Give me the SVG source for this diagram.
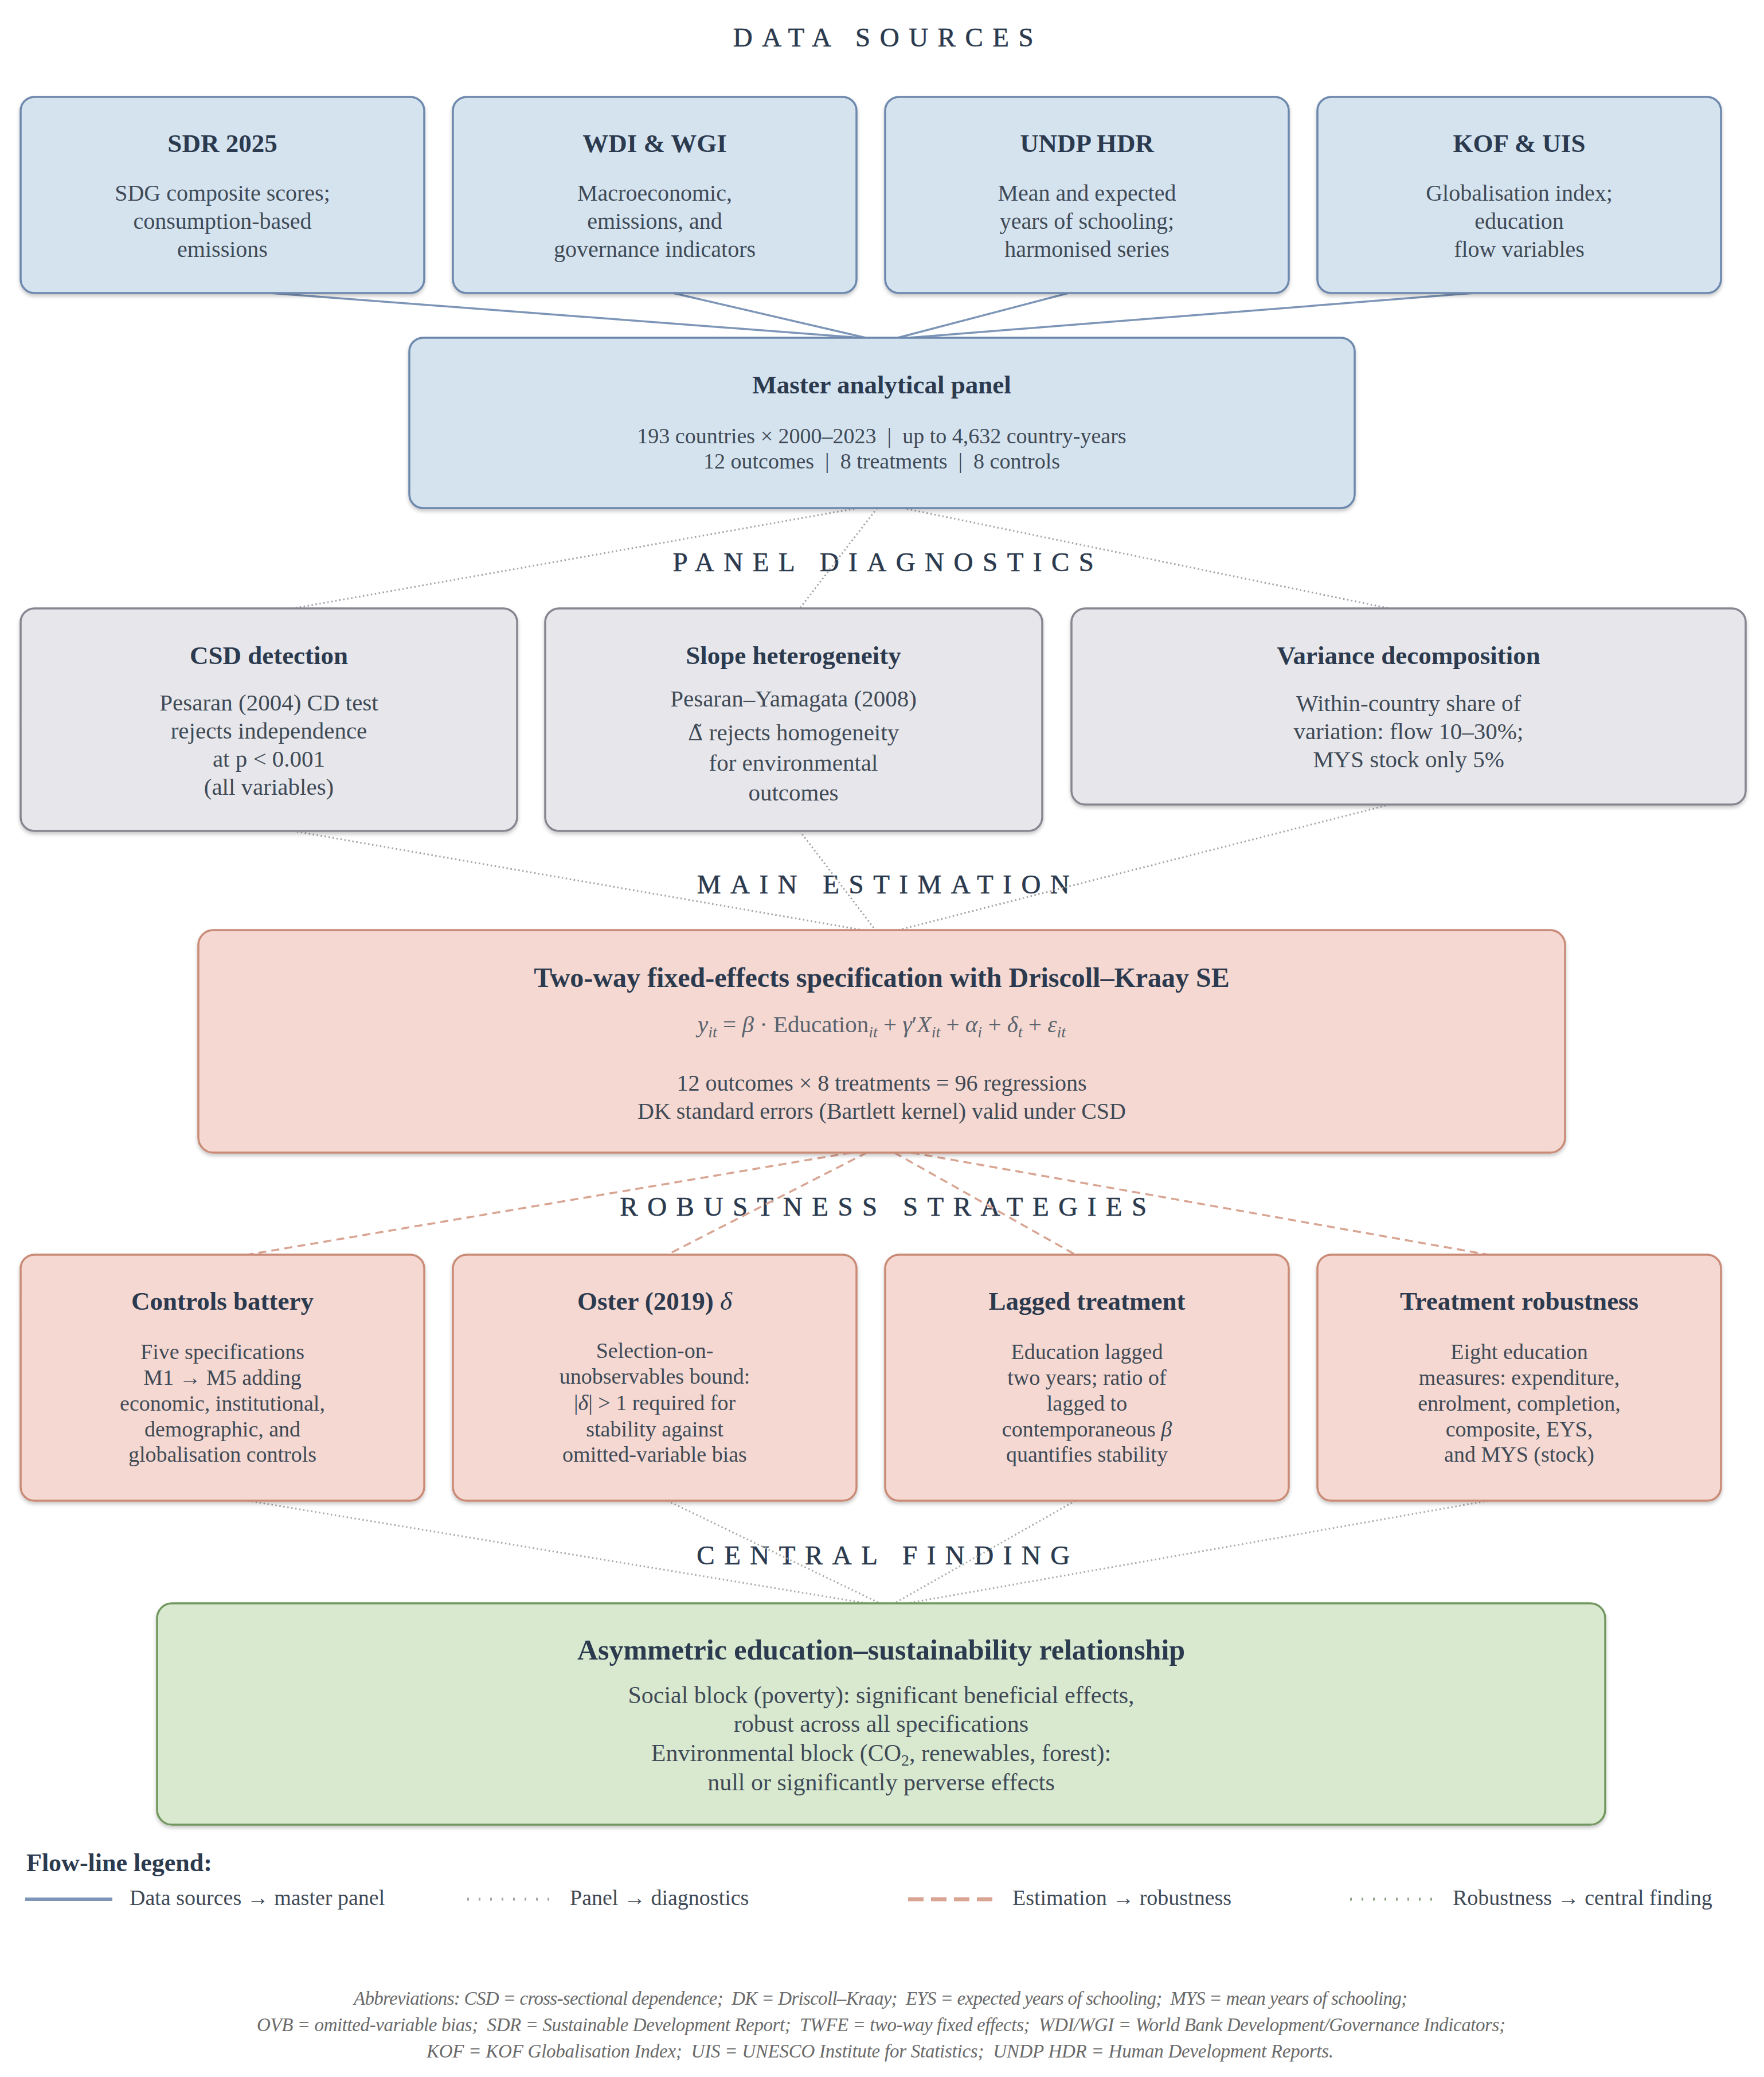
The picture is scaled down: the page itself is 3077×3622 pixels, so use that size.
<svg xmlns="http://www.w3.org/2000/svg" width="3077" height="3622" viewBox="0 0 3077 3622">
<defs>
<filter id="sh" x="-5%" y="-5%" width="110%" height="115%">
<feDropShadow dx="0" dy="4" stdDeviation="3" flood-color="#000" flood-opacity="0.22"/>
</filter>
</defs>
<style>
text{font-family:"Liberation Serif","Times New Roman",serif;}
.hdr{font-size:47px;letter-spacing:16.5px;fill:#2b3a4e;text-anchor:middle;stroke:#2b3a4e;stroke-width:0.6px;}
.ttl{font-size:45px;font-weight:bold;fill:#2b3a4e;text-anchor:middle;}
.bd{font-size:40px;fill:#3f4a56;text-anchor:middle;}
.blue{fill:#d5e3ef;stroke:#6d88ad;stroke-width:3.5;filter:url(#sh);}
.gray{fill:#e7e7eb;stroke:#85868f;stroke-width:3.5;filter:url(#sh);}
.pink{fill:#f4d8d1;stroke:#c98a76;stroke-width:3.5;filter:url(#sh);}
.green{fill:#d8e9d0;stroke:#72975f;stroke-width:3.5;filter:url(#sh);}
.c1{stroke:#7d96b8;stroke-width:3.5;fill:none;}
.c2{stroke:#a3a3aa;stroke-width:3;stroke-dasharray:2.5 4.5;fill:none;}
.c3{stroke:#d9a593;stroke-width:3.5;stroke-dasharray:14 9;fill:none;}
.c4{stroke:#a6ada2;stroke-width:3;stroke-dasharray:2.5 4.5;fill:none;}
.fm{font-size:41px;fill:#5a636d;text-anchor:middle;}
.sub{font-size:28px;font-style:italic;}
.it{font-style:italic;}
.lg{font-size:38px;fill:#3f4a56;}
.ft{font-size:33px;font-style:italic;fill:#6a6a6a;text-anchor:middle;white-space:pre;}
.dv{font-family:"DejaVu Serif",serif;font-size:37px;}
</style>
<rect x="0" y="0" width="3077" height="3622" fill="#ffffff"/>

<!-- section headers -->
<g id="headers">
<text class="hdr" x="1549" y="81">DATA SOURCES</text>
<text class="hdr" x="1549" y="996">PANEL DIAGNOSTICS</text>
<text class="hdr" x="1549" y="1558">MAIN ESTIMATION</text>
<text class="hdr" x="1549" y="2120">ROBUSTNESS STRATEGIES</text>
<text class="hdr" x="1549" y="2728">CENTRAL FINDING</text>
</g>

<!-- connectors -->
<g id="connectors">
<line class="c1" x1="472" y1="511" x2="1500" y2="589"/>
<line class="c1" x1="1174" y1="511" x2="1510" y2="589"/>
<line class="c1" x1="1864" y1="511" x2="1566" y2="589"/>
<line class="c1" x1="2571" y1="511" x2="1585" y2="589"/>

<line class="c2" x1="1497" y1="886" x2="511" y2="1061"/>
<line class="c2" x1="1530" y1="886" x2="1395" y2="1061"/>
<line class="c2" x1="1575" y1="886" x2="2424" y2="1061"/>

<line class="c2" x1="511" y1="1449" x2="1505" y2="1622"/>
<line class="c2" x1="1395" y1="1449" x2="1527" y2="1622"/>
<line class="c2" x1="2424" y1="1403" x2="1566" y2="1622"/>

<line class="c3" x1="1485" y1="2010" x2="432" y2="2188"/>
<line class="c3" x1="1512" y1="2010" x2="1164" y2="2188"/>
<line class="c3" x1="1560" y1="2010" x2="1876" y2="2188"/>
<line class="c3" x1="1590" y1="2010" x2="2596" y2="2188"/>

<line class="c4" x1="432" y1="2617" x2="1512" y2="2796"/>
<line class="c4" x1="1164" y1="2617" x2="1535" y2="2796"/>
<line class="c4" x1="1876" y1="2617" x2="1560" y2="2796"/>
<line class="c4" x1="2596" y1="2617" x2="1582" y2="2796"/>
</g>

<!-- data sources -->
<g id="sdr2025">
<rect class="blue" x="36" y="169" width="704" height="342" rx="24"/>
<text class="ttl" x="388" y="265">SDR 2025</text>
<text class="bd" x="388" y="350">SDG composite scores;</text>
<text class="bd" x="388" y="399">consumption-based</text>
<text class="bd" x="388" y="448">emissions</text>
</g>
<g id="wdi-wgi">
<rect class="blue" x="790" y="169" width="704" height="342" rx="24"/>
<text class="ttl" x="1142" y="265">WDI &amp; WGI</text>
<text class="bd" x="1142" y="350">Macroeconomic,</text>
<text class="bd" x="1142" y="399">emissions, and</text>
<text class="bd" x="1142" y="448">governance indicators</text>
</g>
<g id="undp-hdr">
<rect class="blue" x="1544" y="169" width="704" height="342" rx="24"/>
<text class="ttl" x="1896" y="265">UNDP HDR</text>
<text class="bd" x="1896" y="350">Mean and expected</text>
<text class="bd" x="1896" y="399">years of schooling;</text>
<text class="bd" x="1896" y="448">harmonised series</text>
</g>
<g id="kof-uis">
<rect class="blue" x="2298" y="169" width="704" height="342" rx="24"/>
<text class="ttl" x="2650" y="265">KOF &amp; UIS</text>
<text class="bd" x="2650" y="350">Globalisation index;</text>
<text class="bd" x="2650" y="399">education</text>
<text class="bd" x="2650" y="448">flow variables</text>
</g>

<!-- master panel -->
<g id="master-panel">
<rect class="blue" x="714" y="589" width="1649" height="297" rx="24"/>
<text class="ttl" x="1538" y="686">Master analytical panel</text>
<text class="bd" x="1538" y="773" style="font-size:38px;white-space:pre">193 countries × 2000–2023  |  up to 4,632 country-years</text>
<text class="bd" x="1538" y="817" style="font-size:38px;white-space:pre">12 outcomes  |  8 treatments  |  8 controls</text>
</g>

<!-- diagnostics -->
<g id="csd-detection">
<rect class="gray" x="36" y="1061" width="866" height="388" rx="24"/>
<text class="ttl" x="469" y="1158">CSD detection</text>
<text class="bd" x="469" y="1239" style="font-size:41px">Pesaran (2004) CD test</text>
<text class="bd" x="469" y="1288" style="font-size:41px">rejects independence</text>
<text class="bd" x="469" y="1337" style="font-size:41px">at p &lt; 0.001</text>
<text class="bd" x="469" y="1386" style="font-size:41px">(all variables)</text>
</g>
<g id="slope-heterogeneity">
<rect class="gray" x="951" y="1061" width="867" height="388" rx="24"/>
<text class="ttl" x="1384" y="1158">Slope heterogeneity</text>
<text class="bd" x="1384" y="1232" style="font-size:41px">Pesaran–Yamagata (2008)</text>
<text class="bd" x="1384" y="1291" style="font-size:41px"><tspan class="dv">Δ̃</tspan> rejects homogeneity</text>
<text class="bd" x="1384" y="1344" style="font-size:41px">for environmental</text>
<text class="bd" x="1384" y="1396" style="font-size:41px">outcomes</text>
</g>
<g id="variance-decomposition">
<rect class="gray" x="1869" y="1061" width="1176" height="342" rx="24"/>
<text class="ttl" x="2457" y="1158">Variance decomposition</text>
<text class="bd" x="2457" y="1240" style="font-size:41px">Within-country share of</text>
<text class="bd" x="2457" y="1289" style="font-size:41px">variation: flow 10–30%;</text>
<text class="bd" x="2457" y="1338" style="font-size:41px">MYS stock only 5%</text>
</g>

<!-- main estimation -->
<g id="twfe-estimation">
<rect class="pink" x="346" y="1622" width="2384" height="388" rx="26"/>
<text class="ttl" x="1538" y="1721" style="font-size:48px">Two-way fixed-effects specification with Driscoll–Kraay SE</text>
<text class="fm" x="1538" y="1800"><tspan class="it">y</tspan><tspan class="sub" dy="9">it</tspan><tspan dy="-9"> = </tspan><tspan class="it">β</tspan><tspan> · Education</tspan><tspan class="sub" dy="9">it</tspan><tspan dy="-9"> + </tspan><tspan class="it">γ</tspan><tspan>′</tspan><tspan class="it">X</tspan><tspan class="sub" dy="9">it</tspan><tspan dy="-9"> + </tspan><tspan class="it">α</tspan><tspan class="sub" dy="9">i</tspan><tspan dy="-9"> + </tspan><tspan class="it">δ</tspan><tspan class="sub" dy="9">t</tspan><tspan dy="-9"> + </tspan><tspan class="it">ε</tspan><tspan class="sub" dy="9">it</tspan></text>
<text class="bd" x="1538" y="1902">12 outcomes × 8 treatments = 96 regressions</text>
<text class="bd" x="1538" y="1951">DK standard errors (Bartlett kernel) valid under CSD</text>
</g>

<!-- robustness -->
<g id="controls-battery">
<rect class="pink" x="36" y="2188" width="704" height="429" rx="24"/>
<text class="ttl" x="388" y="2284">Controls battery</text>
<text class="bd" x="388" y="2370" style="font-size:38px">Five specifications</text>
<text class="bd" x="388" y="2415" style="font-size:38px">M1 → M5 adding</text>
<text class="bd" x="388" y="2460" style="font-size:38px">economic, institutional,</text>
<text class="bd" x="388" y="2505" style="font-size:38px">demographic, and</text>
<text class="bd" x="388" y="2549" style="font-size:38px">globalisation controls</text>
</g>
<g id="oster-delta">
<rect class="pink" x="790" y="2188" width="704" height="429" rx="24"/>
<text class="ttl" x="1142" y="2284">Oster (2019) <tspan font-style="italic" font-weight="normal">δ</tspan></text>
<text class="bd" x="1142" y="2368" style="font-size:38px">Selection-on-</text>
<text class="bd" x="1142" y="2413" style="font-size:38px">unobservables bound:</text>
<text class="bd" x="1142" y="2459" style="font-size:38px">|<tspan class="it">δ</tspan>| &gt; 1 required for</text>
<text class="bd" x="1142" y="2505" style="font-size:38px">stability against</text>
<text class="bd" x="1142" y="2549" style="font-size:38px">omitted-variable bias</text>
</g>
<g id="lagged-treatment">
<rect class="pink" x="1544" y="2188" width="704" height="429" rx="24"/>
<text class="ttl" x="1896" y="2284">Lagged treatment</text>
<text class="bd" x="1896" y="2370" style="font-size:38px">Education lagged</text>
<text class="bd" x="1896" y="2415" style="font-size:38px">two years; ratio of</text>
<text class="bd" x="1896" y="2460" style="font-size:38px">lagged to</text>
<text class="bd" x="1896" y="2505" style="font-size:38px">contemporaneous <tspan class="it">β</tspan></text>
<text class="bd" x="1896" y="2549" style="font-size:38px">quantifies stability</text>
</g>
<g id="treatment-robustness">
<rect class="pink" x="2298" y="2188" width="704" height="429" rx="24"/>
<text class="ttl" x="2650" y="2284">Treatment robustness</text>
<text class="bd" x="2650" y="2370" style="font-size:38px">Eight education</text>
<text class="bd" x="2650" y="2415" style="font-size:38px">measures: expenditure,</text>
<text class="bd" x="2650" y="2460" style="font-size:38px">enrolment, completion,</text>
<text class="bd" x="2650" y="2505" style="font-size:38px">composite, EYS,</text>
<text class="bd" x="2650" y="2549" style="font-size:38px">and MYS (stock)</text>
</g>

<!-- central finding -->
<g id="central-finding">
<rect class="green" x="274" y="2796" width="2526" height="386" rx="26"/>
<text class="ttl" x="1537" y="2894" style="font-size:50px">Asymmetric education–sustainability relationship</text>
<text class="bd" x="1537" y="2970" style="font-size:42px">Social block (poverty): significant beneficial effects,</text>
<text class="bd" x="1537" y="3020" style="font-size:42px">robust across all specifications</text>
<text class="bd" x="1537" y="3071" style="font-size:42px">Environmental block (CO<tspan font-size="28" dy="8">2</tspan><tspan dy="-8">, renewables, forest):</tspan></text>
<text class="bd" x="1537" y="3122" style="font-size:42px">null or significantly perverse effects</text>
</g>

<!-- legend -->
<g id="legend">
<text x="46" y="3263" style="font-size:44px;font-weight:bold;fill:#2b3a4e">Flow-line legend:</text>
<line x1="44" y1="3312" x2="196" y2="3312" stroke="#7d96b8" stroke-width="6"/>
<text class="lg" x="226" y="3322">Data sources → master panel</text>
<line x1="815" y1="3312" x2="960" y2="3312" stroke="#a3a3aa" stroke-width="5" stroke-dasharray="3 17"/>
<text class="lg" x="994" y="3322">Panel → diagnostics</text>
<line x1="1584" y1="3312" x2="1731" y2="3312" stroke="#d9a593" stroke-width="7" stroke-dasharray="27 13"/>
<text class="lg" x="1766" y="3322">Estimation → robustness</text>
<line x1="2355" y1="3312" x2="2500" y2="3312" stroke="#8fa486" stroke-width="5" stroke-dasharray="3 17"/>
<text class="lg" x="2534" y="3322">Robustness → central finding</text>
</g>

<!-- footer -->
<g id="footer">
<text class="ft" x="1536" y="3496" textLength="1838" lengthAdjust="spacing">Abbreviations: CSD = cross-sectional dependence;  DK = Driscoll–Kraay;  EYS = expected years of schooling;  MYS = mean years of schooling;</text>
<text class="ft" x="1537" y="3542" textLength="2178" lengthAdjust="spacing">OVB = omitted-variable bias;  SDR = Sustainable Development Report;  TWFE = two-way fixed effects;  WDI/WGI = World Bank Development/Governance Indicators;</text>
<text class="ft" x="1535" y="3588" textLength="1582" lengthAdjust="spacing">KOF = KOF Globalisation Index;  UIS = UNESCO Institute for Statistics;  UNDP HDR = Human Development Reports.</text>
</g>
</svg>
